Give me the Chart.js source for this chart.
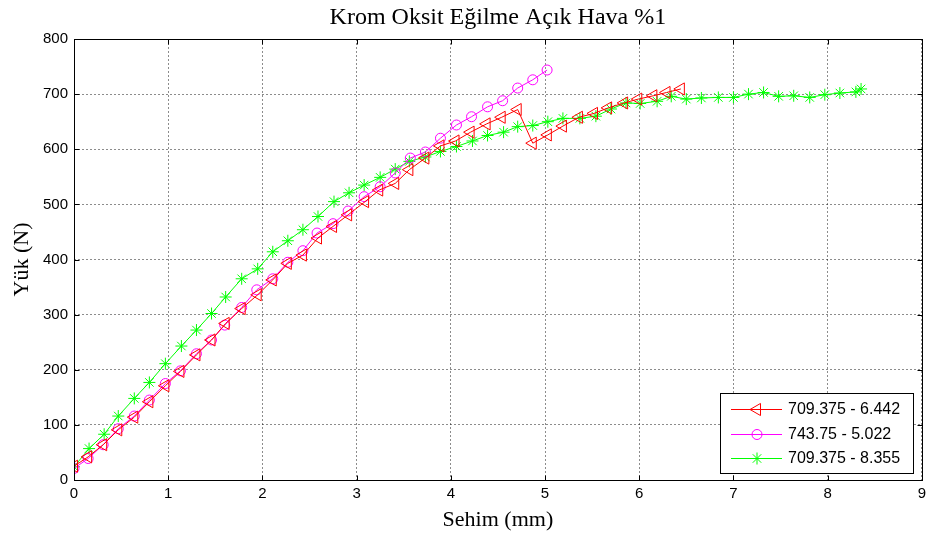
<!DOCTYPE html>
<html>
<head>
<meta charset="utf-8">
<script src="https://cdn.jsdelivr.net/npm/chart.js@4/dist/chart.umd.min.js"></script>
<style>
  html, body { margin: 0; padding: 0; background: #fff; }
  #wrap { width: 931px; height: 540px; }
</style>
</head>
<body>
<div id="wrap"><canvas id="c" width="931" height="540"></canvas></div>
<script>
// Labels
const chartTitle = 'Krom Oksit Eğilme Açık Hava %1';
const xTitle = 'Sehim (mm)';
const yTitle = 'Yük (N)';
const xTicks = [0, 1, 2, 3, 4, 5, 6, 7, 8, 9];
const yTicks = [0, 100, 200, 300, 400, 500, 600, 700, 800];

// Series 1: 709.375 - 6.442 (red, triangles)
const s1Label = '709.375 - 6.442';
const s1X = [0, 0.15, 0.31, 0.47, 0.64, 0.80, 0.97, 1.13, 1.30, 1.46,
             1.61, 1.78, 1.95, 2.11, 2.27, 2.43, 2.59, 2.75, 2.91, 3.09,
             3.24, 3.41, 3.56, 3.73, 3.89, 4.05, 4.21, 4.38, 4.54, 4.71,
             4.87, 5.03, 5.19, 5.36, 5.52, 5.67, 5.84, 5.99, 6.15, 6.29, 6.442];
const s1Y = [25, 42, 64, 91, 114, 142, 171, 197, 227, 254,
             284, 311, 336, 363, 393, 408, 439, 460, 481, 505,
             526, 538, 563, 584, 606, 615, 631, 646, 658, 672,
             611, 626, 642, 658, 665, 675, 684, 691, 697, 703, 709.375];

// Series 2: 743.75 - 5.022 (magenta, circles)
const s2Label = '743.75 - 5.022';
const s2X = [0, 0.15, 0.31, 0.47, 0.64, 0.80, 0.97, 1.13, 1.30, 1.46,
             1.60, 1.78, 1.94, 2.11, 2.27, 2.43, 2.58, 2.75, 2.91, 3.08,
             3.25, 3.41, 3.57, 3.73, 3.89, 4.06, 4.22, 4.39, 4.55, 4.71,
             4.87, 5.022];
const s2Y = [21, 39, 64, 93, 116, 145, 175, 198, 229, 254,
             281, 313, 345, 365, 395, 416, 448, 465, 488, 514,
             532, 557, 584, 595, 620, 644, 659, 677, 688, 711,
             726, 743.75];

// Series 3: 709.375 - 8.355 (green, asterisks)
const s3Label = '709.375 - 8.355';
const s3X = [0, 0.16, 0.32, 0.47, 0.64, 0.80, 0.97, 1.14, 1.30, 1.46,
             1.61, 1.78, 1.95, 2.11, 2.27, 2.43, 2.59, 2.76, 2.92, 3.08,
             3.25, 3.41, 3.56, 3.73, 3.89, 4.06, 4.23, 4.39, 4.56, 4.71,
             4.87, 5.03, 5.19, 5.37, 5.54, 5.70, 5.86, 6.01, 6.19, 6.34,
             6.50, 6.66, 6.84, 7.00, 7.16, 7.32, 7.48, 7.64, 7.81, 7.97,
             8.13, 8.30, 8.355];
const s3Y = [24, 57, 83, 116, 148, 177, 211, 243, 272, 302,
             332, 365, 383, 414, 434, 454, 478, 505, 521, 535,
             549, 564, 578, 586, 596, 605, 615, 625, 631, 641,
             643, 650, 656, 656, 660, 673, 684, 683, 687, 696,
             691, 693, 694, 694, 700, 703, 696, 697, 694, 699,
             702, 704, 709.375];

const toPoints = (xs, ys) => xs.map((x, i) => ({ x: x, y: ys[i] }));

const SANS = '"Liberation Sans", Arial, sans-serif';
const SERIF = '"Liberation Serif", "Times New Roman", serif';

const datasets = [
  { label: s1Label, data: toPoints(s1X, s1Y), borderColor: '#ff0000',
    pointStyle: 'triangle', pointRotation: -90, pointRadius: 7, pointBorderWidth: 1 },
  { label: s2Label, data: toPoints(s2X, s2Y), borderColor: '#ff00ff',
    pointStyle: 'circle', pointRadius: 5, pointBorderWidth: 1 },
  { label: s3Label, data: toPoints(s3X, s3Y), borderColor: '#00ff00',
    pointStyle: 'star', pointRadius: 6, pointBorderWidth: 1 }
].map(d => Object.assign({
  showLine: true, borderWidth: 1, backgroundColor: 'rgba(0,0,0,0)',
  pointBackgroundColor: 'rgba(0,0,0,0)', pointBorderColor: d.borderColor,
  pointHoverRadius: d.pointRadius, tension: 0
}, d));

// Box, inward ticks, texts and legend drawn on top of the plot
const framePlugin = {
  id: 'frame',
  afterDraw(chart) {
    const ctx = chart.ctx;
    const a = chart.chartArea;
    const xs = chart.scales.x, ys = chart.scales.y;
    ctx.save();
    ctx.strokeStyle = '#000';
    ctx.lineWidth = 1;
    ctx.setLineDash([]);
    const L = Math.round(a.left) + 0.5, R = Math.round(a.right) + 0.5;
    const T = Math.round(a.top) + 0.5, B = Math.round(a.bottom) + 0.5;
    ctx.strokeRect(L, T, R - L, B - T);
    const tl = 5;
    ctx.beginPath();
    xTicks.forEach(v => {
      const px = Math.round(xs.getPixelForValue(v)) + 0.5;
      ctx.moveTo(px, B); ctx.lineTo(px, B - tl);
      ctx.moveTo(px, T); ctx.lineTo(px, T + tl);
    });
    yTicks.forEach(v => {
      const py = Math.round(ys.getPixelForValue(v)) + 0.5;
      ctx.moveTo(L, py); ctx.lineTo(L + tl, py);
      ctx.moveTo(R, py); ctx.lineTo(R - tl, py);
    });
    ctx.stroke();

    // Title and axis titles
    ctx.fillStyle = '#000';
    ctx.textAlign = 'center';
    ctx.textBaseline = 'middle';
    ctx.font = '24px ' + SERIF;
    ctx.fillText(chartTitle, (a.left + a.right) / 2, 18);
    ctx.font = '22px ' + SERIF;
    ctx.fillText(xTitle, (a.left + a.right) / 2, 520);
    ctx.save();
    ctx.translate(22, (a.top + a.bottom) / 2);
    ctx.rotate(-Math.PI / 2);
    ctx.fillText(yTitle, 0, 0);
    ctx.restore();

    // Legend box
    const bx = 720.5, by = 393.5, bw = 193, bh = 80;
    ctx.fillStyle = '#fff';
    ctx.fillRect(bx, by, bw, bh);
    ctx.strokeStyle = '#000';
    ctx.strokeRect(bx, by, bw, bh);
    const rows = [409, 434, 458];
    ctx.font = '16px ' + SANS;
    ctx.textAlign = 'left';
    chart.data.datasets.forEach((d, i) => {
      const y = rows[i] + 0.5;
      ctx.strokeStyle = d.borderColor;
      ctx.lineWidth = 1;
      ctx.beginPath();
      ctx.moveTo(731, y); ctx.lineTo(782, y);
      ctx.stroke();
      ctx.fillStyle = 'rgba(0,0,0,0)';
      Chart.helpers.drawPoint(ctx, {
        pointStyle: d.pointStyle, rotation: d.pointRotation || 0,
        radius: d.pointRadius, borderWidth: 1
      }, 757, y);
      ctx.fillStyle = '#000';
      ctx.fillText(d.label, 788, rows[i] + 1);
    });
    ctx.restore();
  }
};

new Chart(document.getElementById('c'), {
  type: 'scatter',
  data: { datasets: datasets },
  options: {
    responsive: false,
    animation: false,
    devicePixelRatio: 1,
    layout: { padding: { top: 39, right: 9, left: 0, bottom: 0 } },
    plugins: { legend: { display: false }, title: { display: false }, tooltip: { enabled: false } },
    scales: {
      x: {
        type: 'linear', min: 0, max: 9,
        afterBuildTicks: s => { s.ticks = xTicks.map(v => ({ value: v })); },
        afterFit: s => { s.height = 60; },
        ticks: { color: '#000', padding: 5, font: { family: SANS, size: 15 } },
        grid: { color: 'rgba(0,0,0,0.45)', drawTicks: false, lineWidth: 1 },
        border: { display: false, dash: [2, 2] }
      },
      y: {
        type: 'linear', min: 0, max: 800,
        afterBuildTicks: s => { s.ticks = yTicks.map(v => ({ value: v })); },
        afterFit: s => { s.width = 74; },
        ticks: { color: '#000', padding: 6, font: { family: SANS, size: 15 } },
        grid: { color: 'rgba(0,0,0,0.45)', drawTicks: false, lineWidth: 1 },
        border: { display: false, dash: [2, 2] }
      }
    }
  },
  plugins: [framePlugin]
});
</script>
</body>
</html>
